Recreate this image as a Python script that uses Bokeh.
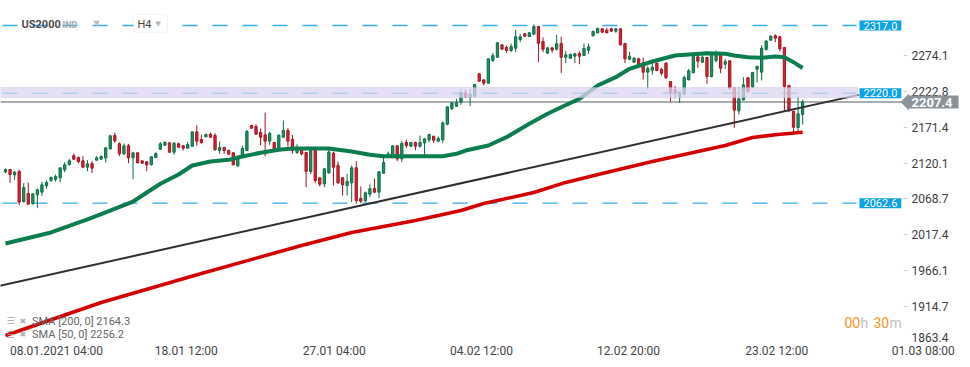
import numpy as np
from bokeh.plotting import figure
from bokeh.models import (ColumnDataSource, Range1d, FixedTicker, Label, BoxAnnotation,
                          PolyAnnotation, PrintfTickFormatter)
from bokeh.embed import file_html
from bokeh.resources import INLINE

# ---------------- data (US2000, H4 candles) ----------------
candle_open = [2107.5, 2110.8, 2103.2, 2108.0, 2065.0, 2076.5, 2061.7, 2074.6, 2078.4, 2087.4,
               2095.5, 2096.9, 2098.9, 2110.3, 2118.0, 2130.4, 2128.0, 2123.2, 2114.2, 2119.4,
               2124.2, 2125.6, 2127.5, 2140.4, 2159.5, 2147.6, 2133.2, 2144.7, 2127.5, 2134.7,
               2123.2, 2121.8, 2117.5, 2128.0, 2139.9, 2145.7, 2149.0, 2135.6, 2147.6, 2144.7,
               2141.4, 2144.2, 2164.7, 2153.8, 2157.6, 2161.4, 2159.5, 2138.0, 2142.3, 2138.0,
               2134.7, 2116.1, 2128.5, 2138.0, 2173.8, 2172.4, 2163.8, 2160.4, 2151.4, 2149.5,
               2138.0, 2157.1, 2166.7, 2153.8, 2135.2, 2139.9, 2135.2, 2108.0, 2138.0, 2098.9,
               2090.3, 2106.0, 2134.2, 2116.6, 2098.9, 2087.9, 2091.7, 2113.2, 2069.3, 2066.0,
               2075.5, 2083.6, 2078.4, 2105.6, 2129.4, 2130.9, 2144.7, 2126.1, 2149.5, 2144.2,
               2149.5, 2144.2, 2149.0, 2153.3, 2158.5, 2151.4, 2153.3, 2175.7, 2197.7, 2201.5,
               2207.2, 2220.6, 2214.4, 2215.8, 2247.8, 2239.2, 2234.4, 2266.9, 2271.6, 2289.3,
               2285.5, 2281.2, 2284.5, 2296.9, 2305.1, 2301.2, 2304.6, 2315.6, 2294.1, 2277.4,
               2285.0, 2283.1, 2291.2, 2271.6, 2270.2, 2273.1, 2276.9, 2274.0, 2281.7, 2302.2,
               2306.5, 2312.2, 2310.3, 2312.2, 2308.9, 2312.2, 2291.2, 2268.8, 2264.5, 2269.3,
               2263.5, 2250.2, 2253.0, 2263.1, 2254.0, 2263.1, 2236.8, 2225.4, 2214.9, 2218.7,
               2239.2, 2249.2, 2272.1, 2264.5, 2271.2, 2244.0, 2266.9, 2275.0, 2261.6, 2266.4,
               2227.3, 2194.8, 2210.6, 2242.1, 2229.2, 2254.5, 2250.2, 2282.6, 2296.0, 2302.2,
               2300.8, 2285.5, 2231.1, 2194.3, 2171.0, 2189.6]
candle_high = [2112.3, 2111.5, 2108.4, 2110.8, 2091.3, 2092.2, 2076.2, 2083.6, 2093.6, 2095.1,
               2100.8, 2103.7, 2113.5, 2121.3, 2126.1, 2133.7, 2129.4, 2129.9, 2124.2, 2123.2,
               2129.9, 2131.3, 2142.8, 2160.4, 2163.8, 2149.5, 2148.0, 2147.6, 2135.2, 2135.2,
               2123.7, 2122.3, 2129.4, 2135.6, 2150.0, 2151.4, 2149.5, 2150.0, 2149.5, 2145.7,
               2150.4, 2165.2, 2174.3, 2160.9, 2162.4, 2163.8, 2162.8, 2150.9, 2143.3, 2139.4,
               2135.2, 2130.4, 2145.2, 2167.6, 2174.8, 2175.7, 2169.5, 2192.4, 2165.2, 2150.4,
               2160.9, 2181.0, 2170.0, 2160.4, 2147.1, 2140.4, 2135.6, 2139.0, 2139.0, 2099.4,
               2112.7, 2139.0, 2136.6, 2122.3, 2099.4, 2104.6, 2116.6, 2122.8, 2086.5, 2079.3,
               2089.4, 2097.9, 2108.4, 2128.5, 2136.6, 2145.7, 2145.7, 2151.4, 2153.8, 2150.0,
               2150.9, 2159.5, 2155.2, 2161.9, 2159.0, 2158.1, 2179.5, 2201.5, 2206.8, 2212.0,
               2226.3, 2225.4, 2226.3, 2233.5, 2248.3, 2239.4, 2270.0, 2277.9, 2293.0, 2290.0,
               2288.4, 2291.2, 2310.8, 2305.1, 2306.0, 2307.4, 2318.4, 2316.5, 2299.8, 2286.0,
               2285.5, 2303.6, 2300.8, 2280.7, 2276.9, 2277.4, 2279.8, 2291.2, 2291.2, 2309.8,
               2314.1, 2313.2, 2313.6, 2314.1, 2313.2, 2313.2, 2292.2, 2279.3, 2271.6, 2270.7,
               2271.2, 2258.8, 2263.1, 2264.5, 2256.4, 2264.5, 2237.3, 2230.6, 2222.5, 2244.9,
               2254.9, 2278.3, 2278.3, 2276.4, 2272.1, 2275.9, 2281.2, 2275.9, 2269.3, 2266.9,
               2228.7, 2228.7, 2243.0, 2242.5, 2250.7, 2259.7, 2288.8, 2296.5, 2302.7, 2304.6,
               2301.7, 2286.0, 2232.0, 2194.8, 2215.3, 2211.0]
candle_low = [2105.6, 2091.7, 2096.0, 2059.8, 2063.6, 2061.0, 2060.7, 2055.5, 2073.1, 2083.1,
              2092.7, 2093.6, 2092.2, 2107.0, 2116.5, 2124.7, 2119.9, 2112.7, 2108.4, 2105.6,
              2123.7, 2125.1, 2120.8, 2139.9, 2149.0, 2129.9, 2132.3, 2119.9, 2097.0, 2119.9,
              2118.9, 2108.4, 2117.0, 2127.0, 2139.4, 2144.2, 2135.2, 2131.8, 2141.8, 2138.0,
              2140.9, 2143.7, 2144.7, 2147.6, 2157.1, 2156.2, 2138.0, 2133.2, 2133.2, 2132.3,
              2117.0, 2114.6, 2127.5, 2137.1, 2169.5, 2160.4, 2145.7, 2129.9, 2146.1, 2137.5,
              2137.5, 2156.6, 2143.7, 2133.2, 2133.2, 2131.3, 2085.5, 2104.1, 2091.3, 2086.5,
              2085.5, 2105.0, 2087.9, 2090.3, 2073.6, 2073.6, 2064.1, 2061.7, 2062.6, 2064.5,
              2071.2, 2077.0, 2069.8, 2105.1, 2127.0, 2129.0, 2122.8, 2121.3, 2141.9, 2142.8,
              2138.5, 2142.3, 2130.9, 2150.0, 2148.5, 2150.0, 2148.5, 2174.3, 2195.8, 2200.5,
              2203.4, 2213.9, 2201.5, 2214.4, 2236.8, 2231.1, 2233.5, 2264.5, 2270.5, 2282.5,
              2277.9, 2278.8, 2278.8, 2293.1, 2300.8, 2300.3, 2304.1, 2264.5, 2278.8, 2276.5,
              2277.9, 2281.2, 2248.7, 2263.1, 2269.7, 2263.1, 2261.6, 2273.1, 2276.4, 2301.7,
              2306.0, 2306.5, 2306.0, 2307.9, 2306.5, 2288.8, 2263.5, 2267.4, 2263.5, 2259.7,
              2239.7, 2225.4, 2246.8, 2251.6, 2245.4, 2240.6, 2208.2, 2213.0, 2206.3, 2217.7,
              2238.7, 2248.7, 2256.4, 2263.5, 2233.5, 2242.5, 2264.0, 2248.7, 2254.9, 2224.4,
              2170.5, 2189.6, 2209.6, 2220.6, 2227.7, 2235.4, 2238.2, 2281.2, 2295.5, 2293.1,
              2279.8, 2193.9, 2192.9, 2164.3, 2165.2, 2175.2]
candle_close = [2110.8, 2103.7, 2107.0, 2064.1, 2085.1, 2061.2, 2076.0, 2081.7, 2088.9, 2092.2,
                2099.4, 2100.8, 2113.2, 2117.5, 2123.2, 2125.6, 2122.3, 2114.2, 2118.9, 2112.7,
                2127.5, 2129.4, 2141.8, 2159.0, 2151.9, 2133.2, 2144.7, 2127.5, 2134.7, 2120.4,
                2119.9, 2117.5, 2129.0, 2133.7, 2147.6, 2149.5, 2135.6, 2148.5, 2142.8, 2141.4,
                2146.6, 2164.7, 2151.4, 2149.5, 2160.9, 2157.1, 2139.0, 2142.3, 2138.0, 2132.8,
                2117.5, 2129.9, 2140.9, 2165.2, 2170.0, 2161.4, 2157.1, 2151.4, 2162.4, 2138.0,
                2160.0, 2166.7, 2151.4, 2138.0, 2139.4, 2133.2, 2108.4, 2138.0, 2095.1, 2089.8,
                2111.8, 2136.0, 2114.2, 2091.7, 2088.9, 2093.7, 2113.2, 2066.5, 2065.5, 2077.4,
                2083.2, 2078.4, 2107.5, 2120.8, 2133.3, 2144.7, 2126.1, 2148.1, 2145.2, 2149.5,
                2144.2, 2149.5, 2154.7, 2160.9, 2152.8, 2155.2, 2177.6, 2200.5, 2206.3, 2206.3,
                2220.6, 2214.4, 2218.2, 2232.5, 2237.3, 2234.4, 2269.3, 2274.0, 2292.2, 2283.1,
                2281.2, 2286.9, 2300.8, 2300.8, 2301.7, 2306.5, 2315.6, 2291.7, 2283.1, 2285.0,
                2281.7, 2290.7, 2271.6, 2275.0, 2275.5, 2276.4, 2273.1, 2284.1, 2286.4, 2308.4,
                2312.7, 2307.4, 2306.5, 2308.9, 2312.2, 2289.3, 2269.3, 2273.1, 2270.2, 2261.2,
                2250.2, 2255.4, 2257.3, 2252.6, 2248.7, 2242.1, 2221.5, 2220.6, 2221.5, 2242.5,
                2252.1, 2275.0, 2265.9, 2271.6, 2244.0, 2275.0, 2275.5, 2255.9, 2265.4, 2227.3,
                2195.8, 2212.0, 2232.0, 2222.5, 2249.7, 2258.3, 2284.5, 2294.6, 2301.7, 2298.9,
                2283.6, 2229.7, 2194.8, 2171.4, 2190.5, 2207.4]

sma50_idx = [0, 10, 18, 22, 28, 34, 38, 41, 45, 49, 52, 56, 60, 63, 67, 71, 76, 80, 83, 90,
             96, 99, 101, 106, 110, 115, 119, 122, 126, 130, 134, 137, 142, 147, 150, 154,
             158, 160, 163, 166, 169, 171, 173, 175]
sma50_val = [2004.9, 2020.7, 2039.3, 2049.3, 2065.0, 2090.4, 2103.7, 2116.6, 2122.3, 2124.7,
             2129.5, 2134.8, 2139.1, 2140.9, 2140.9, 2140.9, 2136.6, 2131.9, 2129.9, 2129.9,
             2129.9, 2133.3, 2138.0, 2145.2, 2157.1, 2176.3, 2190.6, 2200.0, 2212.1, 2231.1,
             2243.0, 2255.0, 2265.5, 2274.1, 2275.5, 2277.3, 2276.5, 2274.1, 2271.6, 2270.8,
             2272.6, 2271.6, 2264.5, 2256.2]
sma200_idx = [0, 21, 43, 65, 76, 90, 100, 105, 116, 123, 131, 142, 158, 164, 169, 175]
sma200_val = [1873.2, 1920.4, 1962.0, 2002.0, 2020.7, 2037.8, 2052.2, 2062.2, 2077.9, 2092.3,
              2105.1, 2122.3, 2145.2, 2156.7, 2160.5, 2164.3]

trend_idx = [-2.0, 187.3]
trend_val = [1943.3, 2217.7]

level_vals = [2317.0, 2220.0, 2062.6]
zone_top, zone_bottom = 2228.2, 2213.5
last_price = 2207.4

y_tick_vals = [1914.7, 1966.1, 2017.4, 2068.7, 2120.1, 2171.4, 2222.8, 2274.1]
y_extra_tick = 1863.4
x_tick_labels = ["08.01.2021 04:00", "18.01 12:00", "27.01 04:00", "04.02 12:00",
                 "12.02 20:00", "23.02 12:00", "01.03 08:00"]
x_tick_pos = [11.2, 39.7, 72.2, 104.5, 136.8, 169.3, 201.5]

symbol, symbol_kind, timeframe = "US2000", "IND", "H4"
sma200_text = "SMA [200, 0] 2164.3"
sma50_text = "SMA [50, 0] 2256.2"

# ---------------- layout calibration (page pixels) ----------------
W, H = 970, 367
PX0, DX = 5.0, 4.555      # page x of first candle, px per candle
PY0, DY = 25.0, 0.6985    # page y of the 2317.0 level, px per index point


def ix(px):
    return (px - PX0) / DX


def pv(py):
    return level_vals[0] - (py - PY0) / DY


p = figure(width=W, height=H, output_backend="svg", toolbar_location=None,
           x_range=Range1d(ix(0), ix(W)), y_range=Range1d(pv(H), pv(0)),
           y_axis_location="right", min_border=0)
p.outline_line_color = None
p.grid.visible = False
p.background_fill_color = "white"
p.border_fill_color = "white"

# axes (drawn inside the canvas at fixed locations)
xa = p.xaxis[0]
xa.fixed_location = pv(342)
xa.ticker = FixedTicker(ticks=x_tick_pos)
xa.major_label_overrides = {pos: lab for pos, lab in zip(x_tick_pos, x_tick_labels)}
xa.axis_line_color = None
xa.major_tick_line_color = None
xa.minor_tick_line_color = None
xa.major_tick_out = 0
xa.major_tick_in = 0
xa.major_label_standoff = 1
xa.major_label_text_font = "Roboto"
xa.major_label_text_font_size = "12px"
xa.major_label_text_color = "#444444"

ya = p.yaxis[0]
ya.fixed_location = ix(903)
ya.ticker = FixedTicker(ticks=y_tick_vals)
ya.formatter = PrintfTickFormatter(format="%.1f")
ya.axis_line_color = None
ya.minor_tick_line_color = None
ya.major_tick_in = 0
ya.major_tick_out = 4
ya.major_tick_line_color = "#d0d0d0"
ya.major_label_standoff = 4
ya.major_label_text_font = "Roboto"
ya.major_label_text_font_size = "12px"
ya.major_label_text_color = "#3c3c3c"

# horizontal dashed levels & last price line
p.segment(x0=[ix(2)] * len(level_vals), y0=level_vals, x1=[ix(856)] * len(level_vals),
          y1=level_vals, line_color="#36abec", line_width=1.3, line_dash="15 15")
p.segment(x0=[ix(0)], y0=[last_price], x1=[ix(902)], y1=[last_price],
          line_color="#8c9398", line_width=1.5)

# candles
idx = list(range(len(candle_open)))
up = [c >= o for o, c in zip(candle_open, candle_close)]
src = ColumnDataSource(dict(
    i=idx, h=candle_high, l=candle_low,
    top=[max(o, c) for o, c in zip(candle_open, candle_close)],
    bot=[min(o, c) for o, c in zip(candle_open, candle_close)],
    fill=["#1b9560" if u else "#dc2434" for u in up],
    edge=["#0c6b43" if u else "#a3111f" for u in up]))
p.segment(x0="i", y0="h", x1="i", y1="l", line_color="edge", line_width=1, source=src)
p.vbar(x="i", width=0.5, top="top", bottom="bot", fill_color="fill", line_color="edge",
       line_width=1, source=src)

# trend line and moving averages
p.line(trend_idx, trend_val, line_color="#2e2e2e", line_width=2)
p.line(sma200_idx, sma200_val, line_color="#d40000", line_width=3.5, line_join="round")
p.line(sma50_idx, sma50_val, line_color="#0a7d4e", line_width=4, line_join="round")

# resistance zone
p.add_layout(BoxAnnotation(left=ix(0), right=ix(857), bottom=zone_bottom, top=zone_top,
                           fill_color="#dcd6f0", fill_alpha=0.75,
                           line_color="#b9b0dc", line_width=1))


def txt(px, py, text, size, color, bold=False, align="left", font="Roboto", **kw):
    lab = Label(x=ix(px), y=pv(py), text=text, text_font=font, text_font_size=f"{size}px",
                text_color=color, text_align=align, text_baseline="middle",
                text_font_style="bold" if bold else "normal", **kw)
    p.add_layout(lab)
    return lab


# level tags
for v in level_vals:
    p.add_layout(Label(x=ix(859), y=v, text=f"{v:.1f}", text_font="Roboto",
                       text_font_size="11px", text_color="white", text_align="left",
                       text_baseline="middle", background_fill_color="#0aa1e6",
                       padding=dict(left=4, right=4, top=1, bottom=1)))

# last price tag
p.add_layout(PolyAnnotation(xs=[ix(900), ix(908.5), ix(908.5)],
                            ys=[last_price, pv(93.0), pv(110.0)],
                            fill_color="#8c9398", fill_alpha=1, line_color=None))
p.add_layout(Label(x=ix(908), y=last_price, text=f"{last_price:.1f}", text_font="Roboto",
                   text_font_size="13px", text_font_style="bold", text_color="white",
                   text_align="left", text_baseline="middle",
                   background_fill_color="#8c9398",
                   padding=dict(left=3, right=6, top=2, bottom=2)))

# lowest price label
txt(911, 337, f"{y_extra_tick:.1f}", 12, "#3c3c3c")

# header
txt(21, 23.5, symbol, 11, "#4d4d4d", bold=True)
txt(62, 24, symbol_kind, 9, "#a0a8b0", bold=True)
txt(93, 22.5, "\u25bc", 8, "#b8bcc0", font="DejaVu Sans")
p.add_layout(BoxAnnotation(left=ix(133), right=ix(167), top=pv(14), bottom=pv(32),
                           fill_color="white", fill_alpha=1, line_color="#d5d8dc",
                           line_width=1, border_radius=3))
txt(137, 23.5, timeframe, 11, "#444444")
txt(155, 23, "\u25bc", 7, "#b0b4b8", font="DejaVu Sans")

# indicator legend
for row_y, label in ((320.7, sma200_text), (334.0, sma50_text)):
    txt(6, row_y, "\u2630", 9, "#a8a8a8", font="DejaVu Sans")
    txt(19, row_y, "\u2716", 8, "#b0b0b0", font="DejaVu Sans")
    txt(31.5, row_y, label, 11, "#666666")

# countdown
txt(844, 322, "00", 14, "#f7941d")
txt(860, 322, "h", 14, "#c0c0c0")
txt(873, 322, "30", 14, "#f7941d")
txt(889, 322, "m", 14, "#c0c0c0")

open("out.html", "w").write(file_html(p, INLINE))
